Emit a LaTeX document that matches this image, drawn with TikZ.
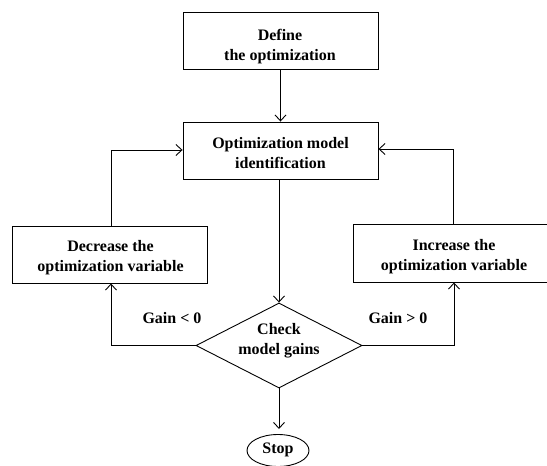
\documentclass[tikz,border=0pt]{standalone}
\usepackage{fontspec}
\setmainfont{Liberation Serif}
\usetikzlibrary{arrows.meta,shapes.geometric}
\begin{document}
\begin{tikzpicture}[x=1pt,y=-1pt,
  every node/.style={font=\bfseries\fontsize{16}{20}\selectfont, align=center, inner sep=0pt},
  boxnode/.style={draw, line width=0.9pt, minimum width=195pt, minimum height=57pt},
  conn/.style={line width=0.9pt, -{Straight Barb[length=6pt,width=11pt,line width=0.9pt]}}]
\useasboundingbox (0,0) rectangle (547,466);
% boxes
\node[boxnode] (def) at (280.5,40.5) {};
\node[boxnode] (ident) at (280.5,150.5) {};
\node[boxnode] (dec) at (109.5,254.5) {};
\node[boxnode, minimum width=198pt, minimum height=58pt] (inc) at (452,253) {};
\node[draw, line width=0.9pt, diamond, minimum width=166pt, minimum height=85pt, inner sep=0pt] (chk) at (279,345.5) {};
\node[draw, line width=0.9pt, ellipse, minimum width=62pt, minimum height=32pt, inner sep=0pt] (stop) at (278,450.5) {};
% texts
\node (deft) at (280,46.5) {Define\\the optimization};
\node (identt) at (280.5,153.5) {Optimization model\\identification};
\node (dect) at (110.5,258) {Decrease the\\optimization variable};
\node (inct) at (454,256.5) {Increase the\\optimization variable};
\node (chkt) at (279,341) {Check\\model gains};
\node (stopt) at (278,449.5) {Stop};
\node (gl) at (172,318.5) {Gain {<} 0};
\node (gr) at (398,318.5) {Gain {>} 0};
% connector corners
\coordinate (lc) at (111,345.5);
\coordinate (rc) at (454,345.5);
\coordinate (lt) at (111,150);
\coordinate (rt) at (453,149);
\coordinate (stoparr) at (279,429);
\draw[conn] (def.south) -- (ident.north);
\draw[conn] (ident.south -| chk.north) -- (chk.north);
\draw[conn] (chk.south) -- (stoparr);
\draw[conn] (chk.west) -- (lc) -- (dec.south -| lc);
\draw[conn] (chk.east) -- (rc) -- (inc.south -| rc);
\draw[conn] (dec.north -| lt) -- (lt) -- (ident.west |- lt);
\draw[conn] (inc.north -| rt) -- (rt) -- (ident.east |- rt);
\end{tikzpicture}
\end{document}
